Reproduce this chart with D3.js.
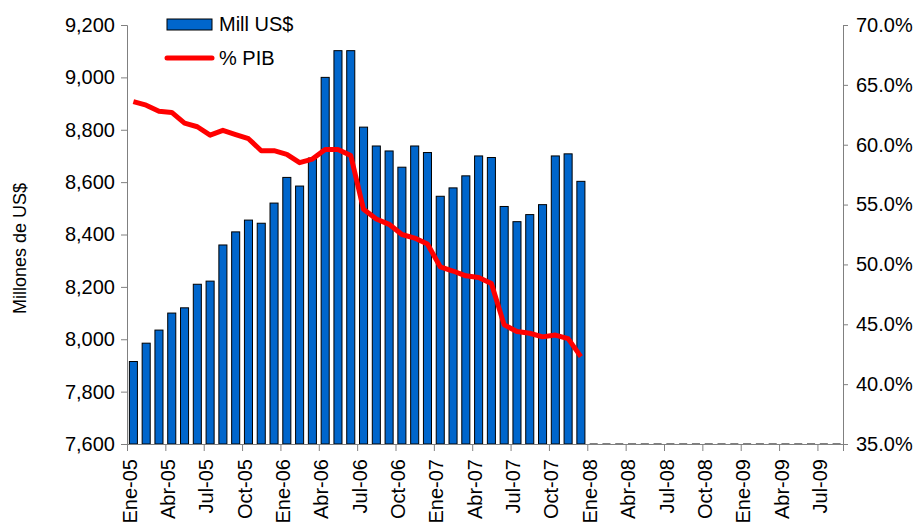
<!DOCTYPE html>
<html>
<head>
<meta charset="utf-8">
<script src="https://cdn.jsdelivr.net/npm/d3@7"></script>
<style>
  body { margin: 0; background: #fff; }
  text { font-family: "Liberation Sans", Arial, sans-serif; }
</style>
</head>
<body>
<script>
// Monthly data, Ene-05 .. Dic-07
var mill_values = [7915, 7985, 8035, 8100, 8120, 8210, 8222, 8360, 8410, 8455, 8443, 8520,
                   8618, 8585, 8692, 9000, 9102, 9102, 8810, 8738, 8719, 8657, 8738, 8713,
                   8546, 8578, 8624, 8700, 8694, 8507, 8449, 8476, 8514, 8700, 8708, 8603];
var pib_values = [63.6, 63.3, 62.8, 62.7, 61.8, 61.5, 60.8, 61.2, 60.85, 60.5, 59.5, 59.5,
                  59.2, 58.5, 58.8, 59.6, 59.6, 59.1, 54.6, 53.8, 53.35, 52.5, 52.2, 51.7,
                  49.8, 49.45, 49.05, 48.9, 48.4, 44.95, 44.4, 44.25, 43.95, 44.1, 43.8, 42.3];
// x axis covers Ene-05 .. Ago-09 (56 months), labelled every 3 months
var month_count = 56;
var x_tick_labels = ["Ene-05","Abr-05","Jul-05","Oct-05","Ene-06","Abr-06","Jul-06","Oct-06",
                     "Ene-07","Abr-07","Jul-07","Oct-07","Ene-08","Abr-08","Jul-08","Oct-08",
                     "Ene-09","Abr-09","Jul-09"];
var left_ticks = [7600, 7800, 8000, 8200, 8400, 8600, 8800, 9000, 9200];
var right_ticks = [35, 40, 45, 50, 55, 60, 65, 70];

var width = 922, height = 529;
var plot_left = 127, plot_right = 843, plot_top = 25, plot_bottom = 444;
var axis_color = "#808080";
var bar_color = "#0066CC";
var label_size = "20px";

var svg = d3.select("body").append("svg")
    .attr("width", width).attr("height", height);

var x = d3.scaleLinear().domain([0, month_count]).range([plot_left, plot_right]);
var y_left = d3.scaleLinear().domain([7600, 9200]).range([plot_bottom, plot_top]);
var y_right = d3.scaleLinear().domain([35, 70]).range([plot_bottom, plot_top]);

var slot = x(1) - x(0);
var bar_w = slot * 0.63;

// Bars
svg.append("g").selectAll("rect")
    .data(mill_values)
    .enter().append("rect")
    .attr("x", function(d, i) { return x(i + 0.5) - bar_w / 2; })
    .attr("y", function(d) { return y_left(d); })
    .attr("width", bar_w)
    .attr("height", function(d) { return plot_bottom - y_left(d); })
    .attr("fill", bar_color)
    .attr("stroke", "#000")
    .attr("stroke-width", 1);

// Empty months show as flat bar outlines on the baseline
svg.append("g").selectAll("line")
    .data(d3.range(mill_values.length, month_count))
    .enter().append("line")
    .attr("x1", function(i) { return x(i + 0.5) - bar_w / 2; })
    .attr("x2", function(i) { return x(i + 0.5) + bar_w / 2; })
    .attr("y1", plot_bottom).attr("y2", plot_bottom)
    .attr("stroke", "#000").attr("stroke-width", 1);

// Left axis
var left_axis = svg.append("g")
    .attr("transform", "translate(" + plot_left + ",0)")
    .call(d3.axisLeft(y_left).tickValues(left_ticks).tickSize(6).tickPadding(6)
        .tickFormat(d3.format(",")));
// Right axis
var right_axis = svg.append("g")
    .attr("transform", "translate(" + plot_right + ",0)")
    .call(d3.axisRight(y_right).tickValues(right_ticks).tickSize(5).tickPadding(8)
        .tickFormat(function(d) { return d.toFixed(1) + "%"; }));

[left_axis, right_axis].forEach(function(ax) {
    ax.select(".domain").attr("stroke", axis_color);
    ax.selectAll(".tick line").attr("stroke", axis_color);
    ax.selectAll(".tick text").attr("fill", "#000")
        .style("font-size", label_size);
});

// Bottom axis: ticks every 3 months on month boundaries
var bottom_axis = svg.append("g")
    .attr("transform", "translate(0," + plot_bottom + ")")
    .call(d3.axisBottom(x)
        .tickValues(d3.range(0, month_count, 3))
        .tickSize(7)
        .tickFormat(function(d, i) { return x_tick_labels[i]; }));
bottom_axis.select(".domain").attr("stroke", axis_color);
bottom_axis.selectAll(".tick line").attr("stroke", axis_color);
bottom_axis.selectAll(".tick text")
    .attr("fill", "#000")
    .style("font-size", label_size)
    .attr("text-anchor", "end")
    .attr("transform", "rotate(-90)")
    .attr("x", -15)
    .attr("y", 0)
    .attr("dy", "0.45em");

// % PIB line
var line_gen = d3.line()
    .x(function(d, i) { return x(i + 0.5); })
    .y(function(d) { return y_right(d); });
svg.append("path")
    .datum(pib_values)
    .attr("d", line_gen)
    .attr("fill", "none")
    .attr("stroke", "#FF0000")
    .attr("stroke-width", 5)
    .attr("stroke-linejoin", "round");

// Axis title
svg.append("text")
    .attr("transform", "translate(26," + ((plot_top + plot_bottom) / 2 + 14) + ") rotate(-90)")
    .attr("text-anchor", "middle")
    .style("font-size", "18px")
    .text("Millones de US$");

// Legend
var legend = svg.append("g");
legend.append("rect")
    .attr("x", 167).attr("y", 19).attr("width", 45).attr("height", 11)
    .attr("fill", bar_color).attr("stroke", "#000").attr("stroke-width", 1);
legend.append("text")
    .attr("x", 219).attr("y", 31)
    .style("font-size", label_size)
    .text("Mill US$");
legend.append("line")
    .attr("x1", 167).attr("x2", 212).attr("y1", 58).attr("y2", 58)
    .attr("stroke", "#FF0000").attr("stroke-width", 5).attr("stroke-linecap", "round");
legend.append("text")
    .attr("x", 219).attr("y", 65)
    .style("font-size", label_size)
    .text("% PIB");
</script>
</body>
</html>
